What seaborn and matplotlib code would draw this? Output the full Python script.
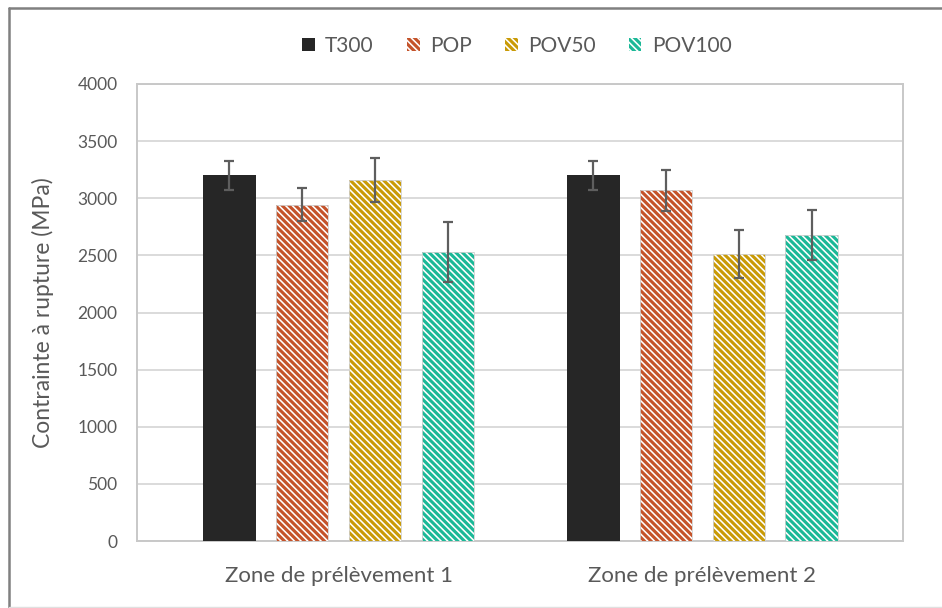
import matplotlib
matplotlib.use("Agg")
import matplotlib.pyplot as plt
from matplotlib.patches import Patch
from matplotlib.lines import Line2D
import seaborn as sns
import pandas as pd

# Data
zones = ["Zone de prélèvement 1", "Zone de prélèvement 2"]
series = ["T300", "POP", "POV50", "POV100"]
t300 = [3200, 3200]
pop = [2945, 3070]
pov50 = [3162, 2515]
pov100 = [2533, 2681]
t300_err = [130, 130]
pop_err = [148, 180]
pov50_err = [192, 210]
pov100_err = [262, 220]
yticks = [0, 500, 1000, 1500, 2000, 2500, 3000, 3500, 4000]

colors = {"T300": "#262626", "POP": "#C4532A", "POV50": "#C99A06", "POV100": "#1BB897"}
hatches = {"T300": "", "POP": "\\\\\\\\\\", "POV50": "\\\\\\\\\\", "POV100": "\\\\\\\\\\"}

values = {"T300": t300, "POP": pop, "POV50": pov50, "POV100": pov100}
errors = {"T300": t300_err, "POP": pop_err, "POV50": pov50_err, "POV100": pov100_err}

rows = []
for s in series:
    for z, v, e in zip(zones, values[s], errors[s]):
        rows.append({"zone": z, "serie": s, "val": v, "err": e})
df = pd.DataFrame(rows)

sns.set_theme(style="white")
plt.rcParams["font.family"] = ["Lato", "DejaVu Sans"]
plt.rcParams["hatch.linewidth"] = 1.15

fig = plt.figure(figsize=(9.42, 6.08), dpi=100)
ax = fig.add_axes([137 / 942, 1 - 541 / 608, (903 - 137) / 942, (541 - 84) / 608])

sns.barplot(data=df, x="zone", y="val", hue="serie", order=zones, hue_order=series,
            palette=colors, errorbar=None, gap=0.28, width=0.8, ax=ax,
            saturation=1, legend=False, zorder=3)

# Style each bar and add its error bar
for container, s in zip(ax.containers, series):
    for bar, v, e in zip(container, values[s], errors[s]):
        bar.set_hatch(hatches[s])
        bar.set_edgecolor("white")
        bar.set_linewidth(0.0)
        cx = bar.get_x() + bar.get_width() / 2
        ax.errorbar(cx, v, yerr=e, color="#5E5E5E", elinewidth=1.6, capsize=3.3,
                    capthick=1.6, zorder=5)
    # light outline around hatched bars
    if s != "T300":
        for bar in container:
            ax.add_patch(plt.Rectangle((bar.get_x(), 0), bar.get_width(), bar.get_height(),
                                       fill=False, edgecolor="#D0D0D0", linewidth=0.6, zorder=4))

ax.set_xlim(-0.554, 1.551)
ax.set_ylim(0, 4000)
ax.set_yticks(yticks)
ax.set_yticklabels([str(t) for t in yticks])
ax.yaxis.grid(True, color="#D4D4D4", linewidth=1.2, zorder=0)
ax.set_axisbelow(True)
for sp in ax.spines.values():
    sp.set_visible(True)
    sp.set_color("#C8C8C8")
    sp.set_linewidth(1.4)

ax.tick_params(axis="y", labelsize=12.5, labelcolor="#595959", length=0, pad=14)
ax.tick_params(axis="x", labelsize=16, labelcolor="#595959", length=0, pad=18)
ax.set_xlabel("")
ax.set_ylabel("Contrainte à rupture (MPa)", fontsize=16.5, color="#595959", labelpad=17)

# Legend
handles = []
for s in series:
    handles.append(Patch(facecolor=colors[s], edgecolor="white", hatch=hatches[s],
                         linewidth=0.0, label=s))
leg = ax.legend(handles=handles, loc="center", bbox_to_anchor=(0.496, 1.083), ncol=4,
                frameon=False, fontsize=15, handlelength=0.6, handleheight=0.6,
                handletextpad=0.5, columnspacing=1.6, labelcolor="#595959")

# Outer chart frame
fig.add_artist(Line2D([9 / 942, 9 / 942], [1 - 8 / 608, 1 - 607 / 608], color="#808080",
                      linewidth=1.8, transform=fig.transFigure))
fig.add_artist(Line2D([9 / 942, 1.0], [1 - 8 / 608, 1 - 8 / 608], color="#808080",
                      linewidth=1.8, transform=fig.transFigure))
fig.add_artist(Line2D([9 / 942, 1.0], [1 - 606.5 / 608, 1 - 606.5 / 608], color="#E0E0E0",
                      linewidth=1.0, transform=fig.transFigure))

fig.savefig("out.png", dpi=100)
